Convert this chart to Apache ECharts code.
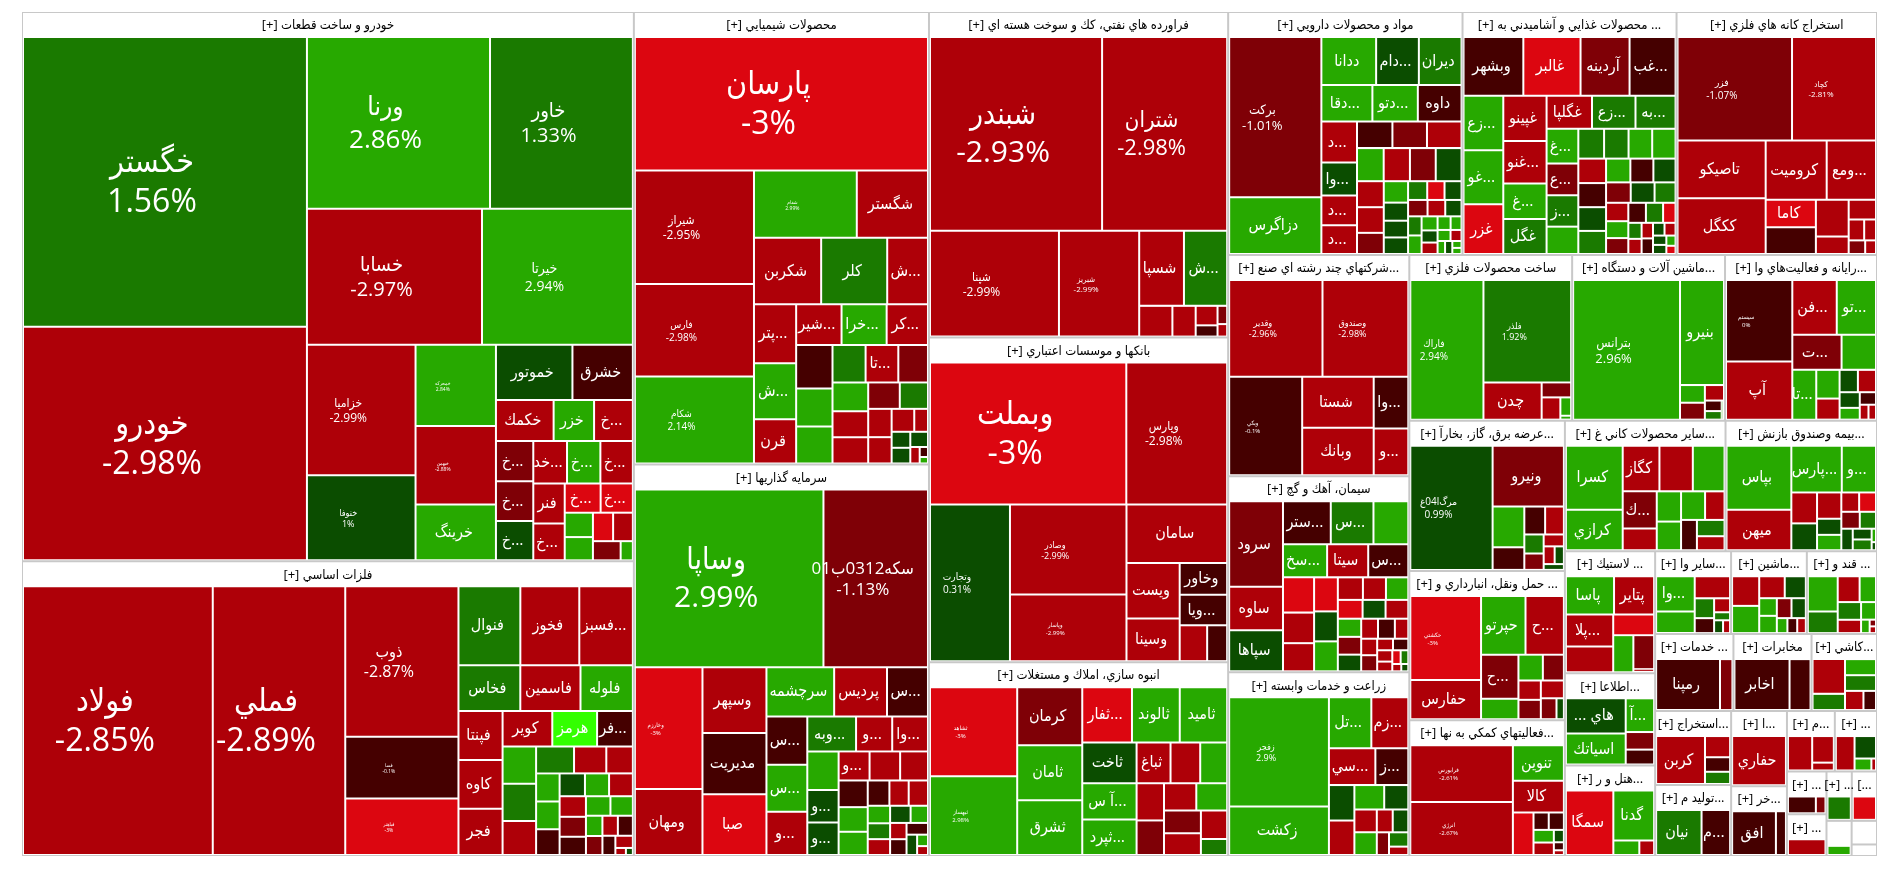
<!DOCTYPE html>
<html>
<head>
<meta charset="utf-8">
<style>
  html, body { margin: 0; height: 100%; background: #fff; }
  #chart { width: 1900px; height: 873px; }
</style>
<script src="https://cdn.jsdelivr.net/npm/echarts@6/dist/echarts.min.js"></script>
</head>
<body>
<div id="chart"></div>
<script>
const sectorNames = [
  'خودرو و ساخت قطعات', 'فلزات اساسي', 'محصولات شيميايي', 'سرمايه گذاريها',
  'فراورده هاي نفتي، كك و سوخت هسته اي', 'بانكها و موسسات اعتباري', 'انبوه سازي، املاك و مستغلات',
  'مواد و محصولات دارويي', 'محصولات غذايي و آشاميدني به ...', 'استخراج كانه هاي فلزي',
  'شركتهاي چند رشته اي صنع...', 'سيمان، آهك و گچ', 'زراعت و خدمات وابسته',
  'ساخت محصولات فلزي', 'ماشين آلات و دستگاه...', 'رايانه و فعاليت‌هاي وا...',
  'عرضه برق، گاز، بخارآ...', 'حمل ونقل، انبارداري و ...', 'فعاليتهاي كمكي به نها...',
  'ساير محصولات كاني غ...', 'بيمه وصندوق بازنش...', 'لاستيك ...', 'اطلاعا...', 'هتل و ر...',
  'ساير وا...', 'ماشين...', 'قند و ...', 'خدمات ...', 'مخابرات', 'كاشي...', 'استخراج...',
  'توليد م...', 'ا...', 'خر...', 'م...', '...', '...', '...', '...', '[...', '', '', ''
]
const sectorSizes = [
  224300, 120300, 89100, 77100, 65000, 64800, 38700, 38000, 34700, 32500, 26750, 23700, 22200,
  18000, 16900, 16800, 15600, 15500, 14100, 14000, 13200, 7350, 5550, 5450, 4200, 4190, 3880,
  4020, 4010, 3360, 3750, 3600, 2800, 2600, 1930, 1700, 1130, 1100, 834, 830, 590, 400, 195
]

// names come first, the tiles with no label in the picture stay nameless
const stockNames = [
  ['خگستر', 'خودرو', 'ورنا', 'خاور', 'خسابا', 'خيرتا', 'خزاميا', 'خنوفا', 'خمحركه', 'خبهمن', 'خرينگ', 'خموتور', 'خشرق', 'خكمك', 'خزر', 'خ...', 'خ...', 'خ...', 'خ...', 'خ...', 'خ...', 'فنر', 'خد...', 'خ...', 'خ...', 'خ...'],
  ['فولاد', 'فملي', 'ذوب', 'فسا', 'فباهنر', 'فنوال', 'فخوز', 'فسبز...', 'فخاس', 'فاسمين', 'فلوله', 'فپنتا', 'كاوه', 'فجر', 'كوير', 'هرمز', 'فر...'],
  ['پارسان', 'شيراز', 'فارس', 'شكام', 'شفام', 'شگستر', 'شكربن', 'كلر', 'ش...', 'پتر...', 'ش...', 'قرن', 'شير...', 'خرا...', 'كر...', 'تا...'],
  ['وساپا', 'سكه0312ب01', 'وخارزم', 'ومهان', 'وسپهر', 'مديريت', 'صبا', 'سرچشمه', 'پرديس', 'س...', 'س...', 'س...', 'و...', 'وبه...', 'وا...', 'و...', 'و...', 'و...', 'و...'],
  ['شبندر', 'شتران', 'شپنا', 'شبريز', 'شسپا', 'ش...'],
  ['وبملت', 'وپارس', 'وتجارت', 'وصادر', 'وپاسار', 'سامان', 'ويست', 'وسينا', 'وخاور', 'ويا...'],
  ['ثشاهد', 'ثبهساز', 'كرمان', 'ثامان', 'ثشرق', 'ثفار...', 'ثالوند', 'ثاميد', 'ثاخت', 'آ س...', 'ثپرد...', 'ثباغ'],
  ['بركت', 'دزاگرس', 'ددانا', 'دام...', 'ديران', 'دقا...', 'دتو...', 'داوه', 'د...', 'وا...', 'د...', 'د...'],
  ['وبشهر', 'غالبر', 'آردينه', 'غب...', 'زع...', 'غو...', 'غزر', 'غپينو', 'غنو...', 'غ...', 'غگل', 'غگلپا', 'زع...', 'به...', 'غ...', 'ز...', 'ع...'],
  ['فزر', 'كچاد', 'تاصيكو', 'ككگل', 'كروميت', 'ومع...', 'كاما'],
  ['وقدير', 'وصندوق', 'وبكي', 'شستا', 'وبانك', 'وا...', 'و...'],
  ['سرود', 'ساوه', 'سپاها', 'ستر...', 'س...', '', 'سخ...', 'سيتا', 'س...'],
  ['زفجر', 'زكشت', 'تل...', 'زم...', 'سي...', 'ز...'],
  ['فاراك', 'فلذر', 'چدن'],
  ['بترانس', 'بنيرو'],
  ['سيستم', 'آپ', 'فن...', 'تو...', 'ت...', 'تا...'],
  ['مرگ‌ا04غ', 'ونيرو'],
  ['حكشتي', 'حفارس', 'حپرتو', 'ح...', 'ح...'],
  ['فرابورس', 'انرژي', 'تنوين', 'كالا'],
  ['كسرا', 'كرازي', 'كگاز', '', '', 'ك...'],
  ['بپاس', 'ميهن', 'پارس...', 'و...'],
  ['پاسا', 'پتاير', 'پلا...'],
  ['... هاي', 'اسياتك', 'آ...'],
  ['سمگا', 'گدنا'],
  ['وا...'], [], [],
  ['رمپنا'], ['اخابر'], [],
  ['كربن'], ['نيان', 'م...'], ['حفاري'], ['افق'], [], [], [], [], [], [], [], [], []
]
const stockSizes = [
  [536130, 431250, 202860, 157780, 153244, 131768, 90390, 58426, 40900, 39552, 27840, 26100, 20445, 14310, 9858, 9434, 8858, 8772, 8658, 8325, 8100, 7373, 8428, 6716, 6059, 5402, 3840, 3648, 3150, 3080, 2898, 1150],
  [364780, 253760, 120224, 48416, 44336, 33495, 31878, 28875, 19140, 18612, 16104, 14400, 14280, 13566, 11600, 10400, 8200, 8085, 8085, 7315, 6512, 5476, 4440, 4081, 4028, 3710, 3534, 3348, 3286, 3180, 2862, 2597, 3300, 2880, 1925, 1705, 1760, 1785, 1377, 1152, 315, 180],
  [301385, 102538, 83197, 78285, 51744, 35476, 33003, 32424, 19686, 18020, 17066, 13356, 13200, 13110, 11960, 8586, 11250, 9720, 9450, 8692, 7738, 7120, 5694, 5037, 6408, 6408, 4446, 4104, 3402, 1953, 1800, 1640, 1845, 861, 400, 224],
  [256725, 141225, 61761, 32870, 30970, 28851, 28525, 24424, 18886, 14484, 14111, 13699, 12566, 12078, 8712, 8811, 7020, 7020, 6150, 8424, 6068, 5494, 5256, 3600, 3168, 3168, 4818, 4526, 2491, 2209, 1833, 2226, 1512, 1568, 2226, 1620, 1265, 660, 484],
  [253266, 183360, 102279, 63036, 24309, 23433, 6970, 4760, 2704, 988, 1456, 627],
  [213615, 108711, 95000, 79300, 58255, 44000, 21546, 16359, 10620, 10266, 6798, 4841],
  [57276, 50616, 27388, 25748, 25748, 19716, 18921, 18762, 15640, 13872, 13600, 9545, 8280, 7475, 6930, 6402, 5925, 5625, 5642, 4977, 5369, 2646],
  [98490, 34020, 16714, 12900, 12878, 11639, 10300, 9888, 8970, 7176, 6396, 6162, 5621, 5475, 5475, 5264, 5170, 5076, 5076, 4071, 2964, 4012, 3245, 2457, 2223, 2254, 1960, 1715, 1750, 1400, 1350, 1300, 1715, 1540, 1150, 966, 900, 870, 704, 416, 672, 550, 400, 240, 200],
  [22646, 21632, 18421, 17238, 13600, 13552, 12408, 12255, 11495, 9500, 9400, 9250, 8832, 8096, 6693, 6003, 6072, 5175, 4536, 4293, 4131, 3969, 3840, 3328, 3136, 3008, 4080, 3900, 3720, 2862, 2756, 2279, 2392, 1924, 1872, 1300, 2070, 1932, 1080, 1008, 870, 870, 660, 570, 696, 550, 400, 300],
  [77142, 56212, 32505, 31323, 22848, 18312, 8300, 8100, 7210, 3220, 3021, 1710, 1254, 1122, 680],
  [58374, 53580, 46170, 22910, 21330, 10878, 9842],
  [38750, 19375, 18135, 16875, 15000, 12125, 11750, 10904, 10622, 8712, 7480, 6864, 6298, 5494, 5494, 4284, 3468, 3196, 3128, 2856, 3906, 3780, 3162, 3060, 2430, 1845, 1800, 2430, 1890, 1215, 1170, 1125, 945, 700, 352, 630, 256],
  [92510, 40310, 17520, 15184, 13728, 9568, 7000, 6790, 5561, 4422, 3782, 2604, 2542, 3782, 1922, 1924, 1040],
  [65464, 57400, 13200, 2387, 2233, 954, 126],
  [95648, 28800, 2352, 1512, 2240, 828, 644, 138],
  [33823, 23840, 14798, 12986, 10336, 6968, 3744, 7068, 2665, 2145, 1625, 2173, 1170, 975, 570, 475],
  [88447, 36816, 10440, 5580, 4446, 3978, 2704, 2288, 1680, 1316, 1081, 728],
  [49852, 22660, 21336, 18312, 13161, 5885, 4047, 4757, 3162, 3162, 2976, 2320, 986],
  [50000, 46500, 14976, 13248, 6944, 1880, 1786, 1870, 782, 1815, 460, 230],
  [30227, 18871, 13545, 12255, 11610, 10098, 5643, 5658, 5330, 4182, 5244, 3569, 3320, 2816],
  [34933, 21809, 19500, 13000, 6205, 5329, 4900, 2870, 2730, 2500, 2350, 2236, 1935, 1710, 1378, 1378, 300, 150],
  [13356, 11024, 10912, 8680, 5885, 5150, 4836, 300],
  [16000, 14000, 6984, 3456, 2880],
  [23932, 15688, 2574, 1365],
  [12765, 7590, 7085, 3300, 2420, 1800, 950, 625, 836],
  [7068, 6460, 4800, 3904, 2520, 2464, 2352, 2295, 1176, 1078, 925],
  [9102, 5412, 4692, 3332, 3420, 2440, 2013, 782, 220, 220],
  [26852, 4795],
  [21450, 7800],
  [8450, 3720, 3420, 3510, 2405, 1560],
  [20808, 4345, 2880, 2376],
  [17875, 11000],
  [22594],
  [15625, 3250],
  [6106, 4095, 1040],
  [4300, 3135, 1170, 234],
  [4100, 1250],
  [4800],
  [300],
  [3900],
  [3900],
  [100],
  [100]
]
const stockChanges = [
  [1.56, -2.98, 2.86, 1.33, -2.97, 2.94, -2.99, 1, 2.84, -2.88, 2.5, 0.5, -0.5, -2.5, 2.5, -2.5, -1.5, -1.5, 0.5, 2.5, -2.5, -2.5, -2.5, -2.5, -3, -3, 2.5, 2.5, -3, -2.5, -1.5, 2.5],
  [-2.85, -2.89, -2.87, -0.1, -3, 1.5, -2.5, -2.5, 1.5, -2.5, 2.5, -2.5, -2.5, -2.5, -2.5, 3.5, -0.5, 2.5, 1.5, -2.5, 1.5, -2.5, -2.5, 2.5, 2.5, -0.5, 0.5, 2.5, -2.5, -1.5, 2.5, 2.5, -2.5, -0.5, 2.5, -0.5, -2.5, -1.5, -0.5, -2.5, -2.5, 0.5],
  [-3, -2.95, -2.98, 2.14, 2.99, -2.5, -2.5, 1.5, -2.5, -2.5, 2.5, -2.5, -2.5, 2.5, -2.5, -2.5, -0.5, 2.5, 2.5, 1.5, -1.5, 2.5, -1.5, 1.5, -2.5, -2.5, -2.5, -2.5, -2.5, -2.5, 0.5, 0.5, 0.5, -2.5, -0.5, 2.5],
  [2.99, -1.13, -3, -2.5, -2.5, -0.5, -3, 2.5, -2.5, -0.5, -0.5, 2.5, -2.5, 1.5, -2.5, -2.5, 0.5, 0.5, -2.5, 2.5, -2.5, -2.5, -0.5, -0.5, -2.5, -2.5, 2.5, 2.5, 2.5, 0.5, 2.5, 1.5, -0.5, -0.5, -2.5, -2.5, 0.5, 2.5, -2.5],
  [-2.93, -2.98, -2.99, -2.99, -2.5, 1.5, -2.5, -2.5, -2.5, -1.5, -0.5, -2.5],
  [-3, -2.98, 0.31, -2.99, -2.99, -2.5, -2.5, -2.5, -0.5, -0.5, -2.5, -0.5],
  [-3, 2.98, -1.5, 2.5, 2.5, -3, 2.5, 2.5, 0.5, 2.5, 2.5, -2.5, -2.5, 2.5, -2.5, -1.5, -2.5, -1.5, 2.5, -2.5, -2.5, 1.5],
  [-1.01, 2.5, 2.5, 0.5, 1.5, 2.5, 2.5, -0.5, -2.5, 0.5, -2.5, -2.5, -0.5, -1.5, -2.5, 2.5, -2.5, -1.5, 0.5, -2.5, 2.5, -2.5, -1.5, 0.5, 0.5, 0.5, 1.5, 0.5, -3, 0.5, 1.5, 2.5, -1.5, -2.5, 2.5, 0.5, -2.5, 2.5, 2.5, 2.5, 2.5, -2.5, 0.5, 2.5, 2.5],
  [-0.5, -3, -1.5, -0.5, 2.5, 2.5, -3, -2.5, -2.5, 2.5, 1.5, -2.5, 1.5, 1.5, 2.5, 1.5, -1.5, 2.5, 1.5, 1.5, 2.5, -2.5, 0.5, 2.5, -0.5, 0.5, 2.5, -0.5, 1.5, -1.5, 0.5, -2.5, 1.5, -0.5, 1.5, -3, 2.5, -1.5, 1.5, -2.5, -2.5, -0.5, -2.5, 0.5, 0.5, 0.5, 2.5, -3],
  [-1.07, -2.81, -2.5, -2.5, -2.5, -2.5, -3, -0.5, -2.5, -2.5, -2.5, -2.5, -2.5, -1.5, -2.5],
  [-2.96, -2.98, -0.1, -2.5, -2.5, -0.5, -2.5],
  [-1.5, -2.5, 0.5, -0.5, 1.5, 2.5, 2.5, -2.5, -0.5, -3, -2.5, -2.5, -3, 0.5, 2.5, -2.5, -3, 0.5, 2.5, 0.5, -2.5, 2.5, -2.5, -1.5, -2.5, -2.5, -1.5, -0.5, -2.5, -2.5, -0.5, -2.5, -2.5, -3, -2.5, 1.5, 0.5],
  [2.9, 2.5, 2.5, -2.5, -2.5, -0.5, 0.5, -2.5, 2.5, 0.5, -2.5, -2.5, 0.5, 2.5, 1.5, -1.5, -2.5],
  [2.94, 1.92, -2.5, -1.5, -2.5, 2.5, 2.5],
  [2.96, 2.5, 2.5, -2.5, -1.5, -0.5, 1.5, 2.5],
  [0, -2.5, -2.5, 2.5, -1.5, 2.5, 2.5, 2.5, -2.5, -2.5, 0.5, 0.5, 2.5, -0.5, -2.5, -2.5],
  [0.99, -1.5, 2.5, -0.5, -0.5, -2.5, 1.5, -1.5, -2.5, -2.5, 0.5, 0.5],
  [-3, -2.5, 2.5, -2.5, -1.5, 2.5, -1.5, 2.5, -2.5, -1.5, -2.5, -1.5, 0.5],
  [-2.61, -2.67, 2.5, -2.5, -3, -0.5, -2.5, -0.5, 0.5, 2.5, -0.5, -2.5],
  [2.5, 2.5, -2.5, -2.5, 2.5, -1.5, 2.5, -2.5, 2.5, -2.5, 2.5, -0.5, 1.5, -2.5],
  [2.5, -2.5, 2.5, 2.5, -2.5, 0.5, -2.5, 0.5, 2.5, -2.5, -3, -1.5, 1.5, 0.5, 0.5, 1.5, 2.5, 0.5],
  [2.5, -2.5, -2.5, -2.5, -3, 2.5, -1.5, -2.5],
  [0.5, 2.5, 2.5, -1.5, -0.5],
  [-3, 2.5, 2.5, -2.5],
  [2.5, 2.5, -2.5, 1.5, -0.5, -2.5, 1.5, -2.5, 0.5],
  [-2.5, 2.5, -2.5, 0.5, 2.5, 2.5, -1.5, 0.5, 2.5, -0.5, -2.5],
  [2.5, 1.5, -2.5, 1.5, 2.5, -2.5, 2.5, 2.5, -1.5, -2.5],
  [-0.5, -1.5],
  [-0.5, -0.5],
  [-2.5, 1.5, 1.5, 2.5, -2.5, -0.5],
  [-2.5, -2.5, -0.5, 1.5],
  [1.5, -0.5],
  [-2.5],
  [-0.5, -0.5],
  [-2.5, -2.5, -2.5],
  [-2.5, 0.5, 2.5, -2.5],
  [-0.5, -1.5],
  [-2.5],
  [1.5],
  [-3],
  [2.5],
  [null],
  [null]
]

const changeSteps = [-3, -2, -1, 0, 1, 2, 3]
const changeColors = ['#dc0610', '#ae0008', '#7f0006', '#450000', '#0b4d00', '#1a7a00', '#27a900', '#33ff00']

// tiles that show name and percent, the others only get a name at the default size
const labelFonts = {
  'خگستر': 32, 'خودرو': 32, 'ورنا': 26, 'خاور': 20, 'خسابا': 20, 'خيرتا': 14, 'خزاميا': 12, 'خنوفا': 9, 'خمحركه': 5, 'خبهمن': 5,
  'فولاد': 32, 'فملي': 32, 'ذوب': 16, 'فسا': 5, 'فباهنر': 5,
  'پارسان': 32, 'شيراز': 12, 'فارس': 10, 'شكام': 10, 'شفام': 5,
  'وساپا': 30, 'سكه0312ب01': 17, 'وخارزم': 6,
  'شبندر': 30, 'شتران': 22, 'شپنا': 12, 'شبريز': 8,
  'وبملت': 32, 'وپارس': 12, 'وتجارت': 10, 'وصادر': 9, 'وپاسار': 6,
  'ثشاهد': 6, 'ثبهساز': 6, 'بركت': 13, 'فزر': 10, 'كچاد': 8,
  'وقدير': 9, 'وصندوق': 9, 'وبكي': 6, 'زفجر': 9, 'فاراك': 10, 'فلذر': 9, 'بترانس': 13, 'سيستم': 6,
  'مرگ‌ا04غ': 10, 'حكشتي': 6, 'فرابورس': 6, 'انرژي': 6
}
const labelFamily = "'Open Sans', 'DejaVu Sans Condensed', 'DejaVu Sans', sans-serif"

function changeColor (change) {
  if (change === null) {
    return '#fff'
  }
  let i = 0
  while (i < changeSteps.length && change > changeSteps[i]) {
    i++
  }
  return changeColors[i]
}

function stockLabel (name, change) {
  const font = labelFonts[name]
  if (!font) {
    return { formatter: name || '', fontSize: 16, lineHeight: 18, offset: [-2, 0] }
  }
  return { formatter: name + '\n' + change + '%', fontSize: font, lineHeight: Math.round(font * 1.25), offset: [-13, 1] }
}

function tileValue (size) {
  const side = Math.sqrt(size) + 5.5
  return side * side
}

const treeData = sectorNames.map((name, s) => ({
  name: name,
  value: sectorSizes[s],
  children: stockSizes[s].map((size, i) => ({
    name: stockNames[s][i] || '',
    value: tileValue(size),
    itemStyle: { color: changeColor(stockChanges[s][i]) },
    label: stockLabel(stockNames[s][i], stockChanges[s][i])
  })).sort((a, b) => b.value - a.value)
}))

const chart = echarts.init(document.getElementById('chart'))
chart.setOption({
  animation: false,
  series: [{
    type: 'treemap',
    left: 22,
    top: 12,
    right: 23,
    bottom: 17,
    roam: false,
    nodeClick: false,
    visibleMin: 0,
    sort: false, // sectors keep the order of sectorNames, stocks are sorted above
    squareRatio: 1,
    breadcrumb: { show: false },
    label: {
      show: true,
      position: 'inside',
      align: 'center',
      verticalAlign: 'middle',
      overflow: 'none',
      padding: 0, // the default padding makes short tiles drop their text
      color: '#fff',
      fontFamily: labelFamily
    },
    levels: [
      {
        itemStyle: { borderColor: '#c8c8c8', borderWidth: 1, gapWidth: 2 }
      },
      {
        itemStyle: { borderColor: '#fff', borderWidth: 1, gapWidth: 2 },
        upperLabel: {
          show: true,
          height: 25,
          position: 'inside',
          align: 'center',
          verticalAlign: 'middle',
          overflow: 'none',
          padding: 0,
          color: '#000',
          fontSize: 13,
          fontFamily: labelFamily,
          formatter: function (p) {
            if (!p.name || p.name.charAt(0) === '[') {
              return p.name
            }
            return '[+] ' + p.name
          }
        }
      },
      {
        itemStyle: { borderWidth: 0 }
      }
    ],
    data: treeData
  }]
})
</script>
</body>
</html>
